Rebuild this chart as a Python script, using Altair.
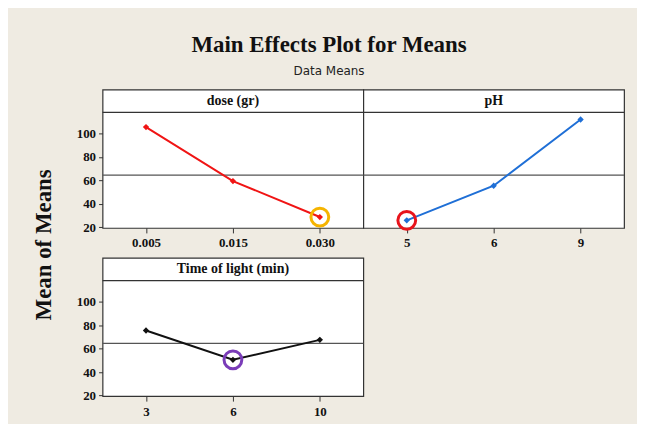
import altair as alt
import pandas as pd

# ---- data ----
main_title = "Main Effects Plot for Means"
sub_title = "Data Means"
y_title = "Mean of Means"

dose_header = "dose (gr)"
dose_levels = ["0.005", "0.015", "0.030"]
dose_means = [105.5, 59.5, 28.8]

ph_header = "pH"
ph_levels = ["5", "6", "9"]
ph_means = [26.0, 55.5, 112.0]

time_header = "Time of light (min)"
time_levels = ["3", "6", "10"]
time_means = [75.5, 50.5, 67.5]

grand_mean = [64.5]
y_ticks = [20, 40, 60, 80, 100]
y_domain = [19.5, 137.5]   # upper part of each panel holds the header strip
header_edge = [118]        # value where the header strip begins

# highlighted (optimal) level for each factor
dose_best = ["0.030"]
ph_best = ["5"]
time_best = ["6"]

SERIF = "Liberation Serif"
PW = 262
PH = 139
HH = 23


def panel(header, levels, means, best, color, ring_color, show_y):
    df = pd.DataFrame({"level": levels, "mean": means})
    dbest = df[df["level"].isin(best)]
    dmean = pd.DataFrame({"m": grand_mean})
    dhead = pd.DataFrame({"h": header_edge, "t": [header]})

    yscale = alt.Scale(domain=y_domain, nice=False, zero=False)
    yaxis = alt.Axis(values=y_ticks, title=None, labelFont=SERIF, labelFontWeight="bold",
                     labelFontSize=13, labelColor="#111", tickColor="#333", tickSize=4,
                     domain=False, grid=False, labelPadding=3) if show_y else None
    x = alt.X("level:N", sort=levels, title=None,
              axis=alt.Axis(labelFont=SERIF, labelFontWeight="bold", labelFontSize=13,
                            labelColor="#111", labelAngle=0, tickColor="#333", tickSize=5,
                            domain=False, grid=False, labelPadding=4))
    y = alt.Y("mean:Q", scale=yscale, axis=yaxis)

    ref = alt.Chart(dmean).mark_rule(color="#555555", strokeWidth=1.3).encode(
        y=alt.Y("m:Q", scale=yscale, axis=yaxis))
    hline = alt.Chart(dhead).mark_rule(color="#333333", strokeWidth=1.3).encode(
        y=alt.Y("h:Q", scale=yscale, axis=yaxis))
    htext = alt.Chart(dhead).mark_text(
        font=SERIF, fontWeight="bold", fontSize=14, color="#111", baseline="middle"
    ).encode(text="t:N", x=alt.value(PW / 2), y=alt.value(HH / 2))
    line = alt.Chart(df).mark_line(color=color, strokeWidth=2).encode(x=x, y=y)
    pts = alt.Chart(df).mark_point(shape="diamond", filled=True, size=40, color=color,
                                   opacity=1).encode(x=x, y=y)
    ring = alt.Chart(dbest).mark_point(shape="circle", filled=False, size=320,
                                       strokeWidth=3, color=ring_color, opacity=1).encode(x=x, y=y)
    return alt.layer(ref, hline, htext, line, pts, ring).properties(width=PW, height=PH)


p_dose = panel(dose_header, dose_levels, dose_means, dose_best, "#F01414", "#F5B400", True)
p_ph = panel(ph_header, ph_levels, ph_means, ph_best, "#1F6FD6", "#E8141C", False)
p_time = panel(time_header, time_levels, time_means, time_best, "#111111", "#7A3CB8", True)

grid = alt.concat(p_dose, p_ph, p_time, columns=2,
                  spacing=alt.RowColnumber(row=30, column=0), bounds="flush").properties(
    title=alt.Title(y_title, orient="left", anchor="middle", font=SERIF, fontWeight="bold",
                    fontSize=23, color="#111", offset=20, dx=9)
)

chart = alt.vconcat(grid).properties(
    title=alt.Title(main_title, subtitle=sub_title, anchor="middle", font=SERIF,
                    fontWeight="bold", fontSize=23, color="#111",
                    subtitleFont="DejaVu Sans", subtitleFontSize=12, subtitleColor="#222",
                    subtitlePadding=9, offset=12),
    padding={"left": 24, "top": 25, "right": 11, "bottom": 4},
).configure(background="#EFEBE2").configure_view(fill="white", stroke="#333333", strokeWidth=1.2)

chart.save("out.html", embed_options={"renderer": "svg", "actions": False})
